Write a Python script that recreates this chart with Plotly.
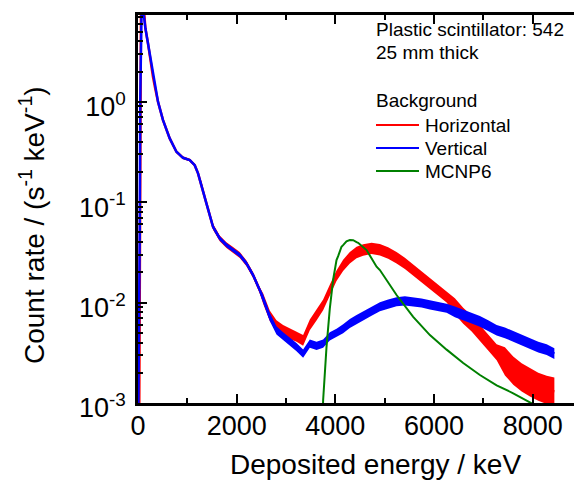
import plotly.graph_objects as go

# ---------------- data ----------------
energy = [0, 25, 35, 45, 60, 80, 100, 118, 150, 203, 250, 304, 350, 406, 507, 643, 779, 913,
          1049, 1150, 1217, 1286, 1387, 1521, 1657, 1793, 1927, 2063, 2199, 2333, 2469, 2536,
          2671, 2807, 2941, 3077, 3213, 3347, 3483, 3619, 3753, 3888, 4024, 4158, 4294, 4430,
          4564, 4734, 4903, 5071, 5241, 5410, 5578, 5748, 5917, 6085, 6256, 6424, 6592, 6763,
          6931, 7099, 7270, 7438, 7606, 7777, 7945, 8114, 8284, 8440]

horizontal = [3e-4, 8e-4, 0.01, 0.5, 8, 15, 11, 7.3, 5.4, 3.81, 2.6, 1.77, 1.35, 1.0, 0.657,
              0.432, 0.318, 0.277, 0.263, 0.234, 0.194, 0.150, 0.0973, 0.0569, 0.0436, 0.0374,
              0.0334, 0.0298, 0.0246, 0.0188, 0.0133, 0.0110, 0.0074, 0.0059, 0.0053, 0.0049,
              0.0046, 0.0042, 0.0060, 0.0075, 0.0095, 0.0133, 0.0185, 0.0235, 0.0280, 0.0315,
              0.0334, 0.0347, 0.0336, 0.0312, 0.0280, 0.0246, 0.0211, 0.0181, 0.0156, 0.0133,
              0.0114, 0.0092, 0.0074, 0.0062, 0.0050, 0.0040, 0.0032, 0.0026, 0.0021, 0.0018,
              0.0016, 0.00145, 0.00135, 0.0013]
# multiplicative half-width of the noise band
horizontal_spread = [1.03] * 21 + [1.07] * 10 + [1.13] * 12 + [1.14] * 14 + [1.2] * 6 + [1.38] * 7

vertical = [3e-4, 0.006, 0.05, 1.0, 9, 15, 11, 7.3, 5.4, 3.81, 2.6, 1.77, 1.35, 1.0, 0.657,
            0.432, 0.318, 0.277, 0.263, 0.234, 0.194, 0.150, 0.0973, 0.0569, 0.0436, 0.0374,
            0.0334, 0.0298, 0.0246, 0.0188, 0.0133, 0.0110, 0.0072, 0.0053, 0.0046, 0.0041,
            0.0036, 0.0031, 0.0039, 0.0037, 0.0039, 0.0046, 0.0050, 0.0055, 0.0062, 0.0068,
            0.0074, 0.0082, 0.0091, 0.0097, 0.0102, 0.0104, 0.0102, 0.0099, 0.0095, 0.0091,
            0.0088, 0.0081, 0.0075, 0.0070, 0.0065, 0.0059, 0.0053, 0.0050, 0.0046, 0.0042,
            0.0039, 0.0036, 0.0034, 0.0031]
vertical_spread = [1.02] * 21 + [1.05] * 10 + [1.1] * 12 + [1.11] * 14 + [1.13] * 13

mcnp_energy = [3745, 3753, 3821, 3888, 3955, 4024, 4057, 4125, 4158, 4226, 4294, 4362, 4430,
               4462, 4633, 4836, 4903, 5241, 5578, 5917, 6256, 6592, 6931, 7270, 7606, 7877,
               8000, 8100]
mcnp6 = [0.0008, 0.00107, 0.0036, 0.0087, 0.0168, 0.0265, 0.0290, 0.0360, 0.0374, 0.0408,
         0.0420, 0.0418, 0.0400, 0.0394, 0.0334, 0.0228, 0.0211, 0.0119, 0.0072, 0.00475,
         0.0034, 0.0025, 0.0019, 0.0015, 0.00125, 0.00107, 0.00098, 0.00092]

series_names = ["Horizontal", "Vertical", "MCNP6"]
series_colors = ["#FF0000", "#0000FF", "#008000"]
y_tickvals = [1e-3, 1e-2, 1e-1, 1e0]
y_ticktext = ["10<sup>-3</sup>", "10<sup>-2</sup>", "10<sup>-1</sup>", "10<sup>0</sup>"]
x_tickvals = [0, 2000, 4000, 6000, 8000]
legend_header = ["Plastic scintillator: 542", "25 mm thick", "Background"]

# ---------------- figure ----------------
FONT = "Liberation Sans, Arial, sans-serif"
fig = go.Figure()


def add_series(x, y, spread, color, name):
    hi = [v * s for v, s in zip(y, spread)]
    lo = [v / s for v, s in zip(y, spread)]
    fig.add_trace(go.Scatter(x=list(x) + list(x)[::-1], y=hi + lo[::-1], fill="toself",
                             fillcolor=color, line=dict(width=0, color=color),
                             mode="lines", showlegend=False, hoverinfo="skip"))
    fig.add_trace(go.Scatter(x=x, y=y, mode="lines", name=name, showlegend=False,
                             line=dict(color=color, width=2.5)))


add_series(energy, horizontal, horizontal_spread, series_colors[0], series_names[0])
add_series(energy, vertical, vertical_spread, series_colors[1], series_names[1])
fig.add_trace(go.Scatter(x=mcnp_energy, y=mcnp6, mode="lines", name=series_names[2],
                         showlegend=False, line=dict(color=series_colors[2], width=2)))

minor_y = [k * 10 ** e for e in range(-3, 1) for k in range(2, 10)]

# plot area in pixels: left 138, right 574, top 15, bottom 403
PL, PW, PB, PH = 138, 436, 403, 388


def px(xp):
    return (xp - PL) / PW


def py(yp):
    return (PB - yp) / PH


annotations = [
    dict(text="Deposited energy / keV", xref="paper", yref="paper",
         x=px(375), y=py(465), xanchor="center", yanchor="middle",
         showarrow=False, font=dict(size=28, family=FONT)),
    dict(text="Count rate / (s<sup>-1</sup> keV<sup>-1</sup>)", xref="paper", yref="paper",
         x=px(32), y=py(225), xanchor="center", yanchor="middle",
         textangle=-90, showarrow=False, font=dict(size=28, family=FONT)),
]
shapes = []
# legend block (text + sample lines)
for txt, yc in zip(legend_header, [30, 53, 100]):
    annotations.append(dict(text=txt, xref="paper", yref="paper", x=px(374), y=py(yc),
                            xanchor="left", yanchor="middle", showarrow=False,
                            font=dict(size=19, family=FONT)))
for name, color, yc in zip(series_names, series_colors, [125, 148, 171]):
    shapes.append(dict(type="line", xref="paper", yref="paper", x0=px(376), x1=px(419),
                       y0=py(yc), y1=py(yc), line=dict(color=color, width=2)))
    annotations.append(dict(text=name, xref="paper", yref="paper", x=px(423), y=py(yc),
                            xanchor="left", yanchor="middle", showarrow=False,
                            font=dict(size=19, family=FONT)))

fig.update_layout(
    width=574, height=480,
    margin=dict(l=PL, r=0, t=15, b=480 - PB),
    paper_bgcolor="white", plot_bgcolor="white",
    font=dict(family=FONT, color="black"),
    showlegend=False,
    xaxis=dict(range=[0, 8838], tickvals=x_tickvals, ticktext=[str(v) for v in x_tickvals],
               ticks="inside", ticklen=9, tickwidth=2, tickcolor="black",
               showline=True, linewidth=2.5, linecolor="black", mirror="ticks",
               showgrid=False, zeroline=False,
               tickfont=dict(size=27, family=FONT), ticklabelstandoff=-3,
               minor=dict(tickvals=[1000, 3000, 5000, 7000], ticks="inside", ticklen=5,
                          tickwidth=2, tickcolor="black", showgrid=False)),
    yaxis=dict(type="log", range=[-3, 0.865], tickvals=y_tickvals, ticktext=y_ticktext,
               ticks="inside", ticklen=9, tickwidth=2, tickcolor="black",
               showline=True, linewidth=2.5, linecolor="black", mirror=False,
               showgrid=False, zeroline=False,
               tickfont=dict(size=27, family=FONT), ticklabelstandoff=4, ticklabelshift=5,
               minor=dict(tickvals=minor_y, ticks="inside", ticklen=5, tickwidth=2,
                          tickcolor="black", showgrid=False)),
    annotations=annotations,
    shapes=shapes,
)

fig.write_html("out.html")
